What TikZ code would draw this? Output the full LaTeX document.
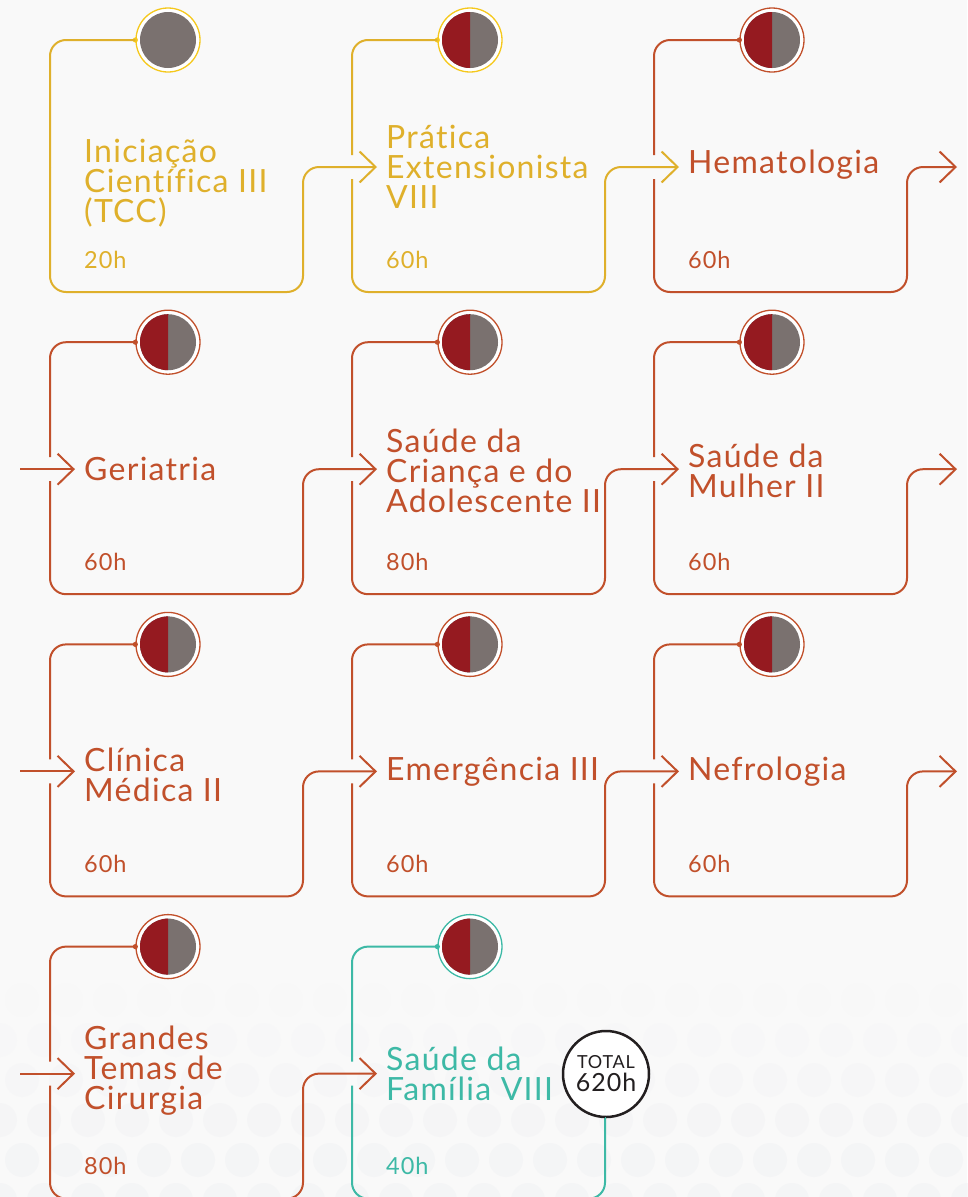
\documentclass[tikz,border=0pt]{standalone}
\usepackage{fontspec}
\setmainfont{Lato}[Ligatures=NoCommon, LetterSpace=4]
\usetikzlibrary{calc}
\usetikzlibrary{arrows.meta}

\definecolor{fundo}{HTML}{F9F9F9}
\definecolor{bolha}{HTML}{F1F2F4}
\definecolor{ouro}{HTML}{DFB02B}
\definecolor{ourociclo}{HTML}{F5C81C}
\definecolor{tijolo}{HTML}{C1502B}
\definecolor{verde}{HTML}{3DB9A6}
\definecolor{vinho}{HTML}{951A20}
\definecolor{cinza}{HTML}{7A716F}
\definecolor{preto}{HTML}{231F20}

\begin{document}
\begin{tikzpicture}[x=1pt,y=-1pt,
  trilha/.style={line width=2pt, rounded corners=16pt},
  seta/.style={line width=2pt, -{Straight Barb[length=16pt,width=31pt]}},
  anel/.style={circle, draw, line width=1.3pt, fill=white, minimum size=64pt, inner sep=0pt},
  titulo/.style={anchor=west, align=left, inner sep=0pt, font=\fontsize{32}{30}\selectfont},
  horas/.style={anchor=base west, inner sep=0pt, font=\fontsize{23.5}{24}\selectfont}]

% fundo e bolhas claras
\fill[fundo] (0,0) rectangle (967,1197);
\useasboundingbox (0,0) rectangle (967,1197);
\foreach \py in {1000,1040,...,1230}{
  \foreach \px in {0,44,...,1000}{
    \pgfmathsetmacro\op{min(0.55,(\py-990)/300)}
    \pgfmathsetmacro\dx{mod(\py,80)==40 ? 22 : 0}
    \fill[bolha, opacity=\op] (\px+\dx,\py) circle (17);
  }
}

% disciplinas
\foreach \i/\c/\r/\cor/\anelcor/\metade/\dy/\titulo/\horas in {
  1/0/0/ouro/ourociclo/0/143/{Iniciação\\Científica III\\(TCC)}/20h,
  2/1/0/ouro/ourociclo/1/127/{Prática\\Extensionista\\VIII}/60h,
  3/2/0/tijolo/tijolo/1/125/Hematologia/60h,
  4/0/1/tijolo/tijolo/1/127/Geriatria/60h,
  5/1/1/tijolo/tijolo/1/129/{Saúde da\\Criança e do\\Adolescente II}/80h,
  6/2/1/tijolo/tijolo/1/129/{Saúde da\\Mulher II}/60h,
  7/0/2/tijolo/tijolo/1/130/{Clínica\\Médica II}/60h,
  8/1/2/tijolo/tijolo/1/127/Emergência III/60h,
  9/2/2/tijolo/tijolo/1/127/Nefrologia/60h,
  10/0/3/tijolo/tijolo/1/124/{Grandes\\Temas de\\Cirurgia}/80h,
  11/1/3/verde/verde/1/127/{Saúde da\\Família VIII}/40h}{
  \pgfmathsetmacro\L{50+302*\c}
  \pgfmathsetmacro\T{40+302.2*\r}
  \pgfmathsetmacro\R{\L+253}
  \pgfmathsetmacro\A{\T+127}
  \pgfmathsetmacro\S{\c==2 ? \L+303 : \L+327}
  \pgfmathsetmacro\g{\i==1 ? 0 : 12}
  \coordinate (chega\i) at (\L+25,\A);
  \coordinate (saida\i) at (\S,\A);
  \coordinate (se\i) at (\R,\T+252);
  \node[anel, draw=\anelcor] (c\i) at (\L+118,\T) {};
  \fill[cinza] (c\i) circle (28);
  \ifnum\metade=1
    \fill[vinho] (c\i) ++(90:28) arc (90:270:28) -- cycle;
  \fi
  \fill[\anelcor] (c\i.west) circle (2.6);
  \node[titulo, text=\cor] (t\i) at (\L+34,\T+\dy) {\titulo};
  \node[horas, text=\cor] (h\i) at (\L+34,\T+228) {\horas};
  \draw[trilha, \cor] (c\i.west) -| (\L,\A-\g);
  \ifnum\i=11
    \draw[trilha, \cor] (\L,\A+\g) |- (se\i) -- (\R,1117);
  \else
    \draw[trilha, seta, \cor] (\L,\A+\g) |- (se\i) -- (\R,\A) -- (saida\i);
  \fi
}

% entradas de cada linha
\foreach \i in {4,7,10}{
  \coordinate (entra\i) at (20,0 |- chega\i);
  \draw[seta, tijolo] (entra\i) -- (chega\i);
}

% total
\node[circle, draw=preto, line width=2.5pt, fill=white, minimum size=86pt, inner sep=0pt,
  align=center, text=preto, font=\fontsize{25}{23}\selectfont] (total) at (606,1074)
  {{\fontsize{18}{18}\selectfont TOTAL}\\620h};
\draw[line width=2pt, verde] (total.south) -- (se11 |- total.south);

\end{tikzpicture}
\end{document}
